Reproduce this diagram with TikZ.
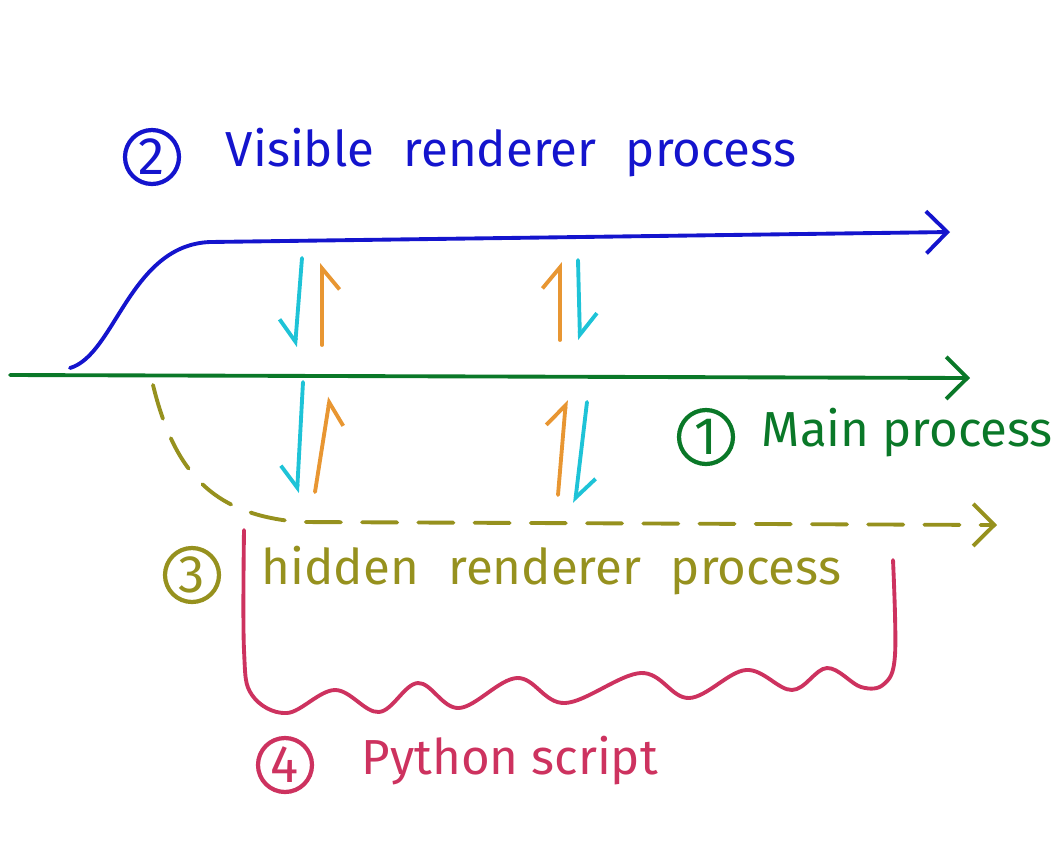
\documentclass[tikz,border=0pt]{standalone}
\usepackage{fontspec}
\setmainfont{Fira Sans}
\usepackage{tikz}
\usetikzlibrary{arrows.meta,positioning}
\definecolor{procblue}{RGB}{20,20,205}
\definecolor{procgreen}{RGB}{10,120,40}
\definecolor{procolive}{RGB}{150,145,30}
\definecolor{proccrimson}{RGB}{205,50,95}
\definecolor{msgcyan}{RGB}{30,195,215}
\definecolor{msgorange}{RGB}{232,150,50}
\def\WordGap{\hspace{0.6em}}
\tikzset{
	proc/.style={line width=1.1pt,line cap=round,line join=round},
	procarrow/.style={proc,-{Straight Barb[length=6pt,width=12pt]}},
	numcirc/.style={draw,circle,line width=1.2pt,minimum size=5.4mm,inner sep=0pt,font=\fontsize{15}{15}\selectfont},
	proclabel/.style={font=\fontsize{14}{14}\selectfont,inner sep=0pt,text height=0.75em,text depth=0.2em},
	msg/.style={line width=1.1pt,line cap=round},
	msgL/.style={msg,-{Straight Barb[harpoon,swap,length=6pt,width=10pt]}},
	msgR/.style={msg,-{Straight Barb[harpoon,length=6pt,width=10pt]}},
}

\begin{document}
\begin{tikzpicture}[x=0.1mm,y=-0.1mm]
			\useasboundingbox (0,0) rectangle (1061,853);
			% 
			\coordinate (v0) at (70,368);
			\coordinate (v1) at (210,242);
			\coordinate (v2) at (950,232);
			\coordinate (m0) at (10,375);
			\coordinate (m1) at (970,378);
			\coordinate (h0) at (153,385);
			\coordinate (h1) at (300,522);
			\coordinate (h2) at (997,525);
			% 
			\draw[procarrow,procblue] (v0) .. controls (115,355) and (130,245) .. (v1) -- (v2);
			\draw[procarrow,procgreen] (m0) -- (m1);
			\draw[procarrow,procolive,dash pattern=on 10pt off 6pt] (h0) .. controls (175,475) and (215,515) .. (h1) -- (h2);
			% 
			\draw[proc,proccrimson] plot[smooth,tension=0.6] coordinates {(244,530) (244,650) (252,695) (287,713) (335,690) (379,712) (418,683) (459,708) (517,678) (565,703) (641,673) (689,698) (746,670) (792,690) (827,668) (861,687) (884,684) (895,655) (893,560)};
			% 
			\coordinate (u1a) at (302,258);
			\coordinate (u1b) at (295,347);
			\coordinate (u2a) at (322,345);
			\coordinate (u2b) at (322,263);
			\coordinate (u3a) at (560,340);
			\coordinate (u3b) at (560,262);
			\coordinate (u4a) at (578,260);
			\coordinate (u4b) at (580,340);
			% 
			\coordinate (l1a) at (303,382);
			\coordinate (l1b) at (297,493);
			\coordinate (l2a) at (315,492);
			\coordinate (l2b) at (330,397);
			\coordinate (l3a) at (558,495);
			\coordinate (l3b) at (566,400);
			\coordinate (l4a) at (587,402);
			\coordinate (l4b) at (575,503);
			% 
			\draw[msgL,msgcyan] (u1a) -- (u1b);
			\draw[msgL,msgorange] (u2a) -- (u2b);
			\draw[msgR,msgorange] (u3a) -- (u3b);
			\draw[msgR,msgcyan] (u4a) -- (u4b);
			\draw[msgL,msgcyan] (l1a) -- (l1b);
			\draw[msgL,msgorange] (l2a) -- (l2b);
			\draw[msgR,msgorange] (l3a) -- (l3b);
			\draw[msgR,msgcyan] (l4a) -- (l4b);
			% 
			\node[numcirc,procblue] (n2) at (152,157) {2};
			\node[proclabel,procblue,right=4.4mm of n2] (t2) {Visible\WordGap renderer\WordGap process};
			\node[numcirc,procgreen] (n1) at (706,437) {1};
			\node[proclabel,procgreen,right=2.6mm of n1] (t1) {Main process};
			\node[numcirc,procolive] (n3) at (192,575) {3};
			\node[proclabel,procolive,right=4mm of n3] (t3) {hidden\WordGap renderer\WordGap process};
			\node[numcirc,proccrimson] (n4) at (285,765) {4};
			\node[proclabel,proccrimson,right=4.7mm of n4] (t4) {Python script};
		\end{tikzpicture}
\end{document}
